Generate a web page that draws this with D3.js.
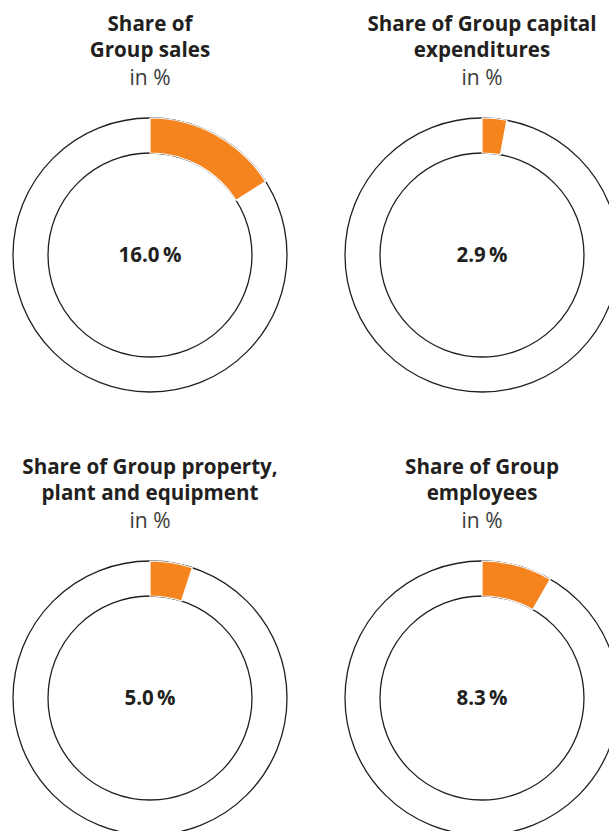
<!DOCTYPE html>
<html>
<head>
<meta charset="utf-8">
<script src="https://cdn.jsdelivr.net/npm/d3@7"></script>
<style>
  body { margin: 0; background: #fff; }
  svg { display: block; font-family: "Open Sans", "Noto Sans", sans-serif; }
  .title { font-weight: 700; font-size: 20.6px; fill: #231f20; }
  .unit { font-weight: 400; font-size: 21px; fill: #3a3a3a; }
  .value { font-weight: 700; font-size: 20.5px; fill: #231f20; }
</style>
</head>
<body>
<svg id="chart"></svg>
<script>
// Data
const titles = [
    ["Share of", "Group sales"],
    ["Share of Group capital", "expenditures"],
    ["Share of Group property,", "plant and equipment"],
    ["Share of Group", "employees"]
];
const shares = [16.0, 2.9, 5.0, 8.3];
const unitLabel = "in %";

const width = 609, height = 831;
const outerR = 137, innerR = 102;
const centersX = [150, 482];
const centersY = [255, 698];

const svg = d3.select("#chart")
    .attr("width", width)
    .attr("height", height);

// percent -> angle
const angle = d3.scaleLinear().domain([0, 100]).range([0, 2 * Math.PI]);

const arc = d3.arc()
    .innerRadius(innerR)
    .outerRadius(outerR)
    .startAngle(0)
    .endAngle(d => angle(d));

shares.forEach((v, i) => {
    const cx = centersX[i % 2];
    const cy = centersY[Math.floor(i / 2)];
    const g = svg.append("g").attr("transform", `translate(${cx},${cy})`);

    // ring outlines
    [outerR, innerR].forEach(r => {
        g.append("circle")
            .attr("r", r)
            .attr("fill", "none")
            .attr("stroke", "#231f20")
            .attr("stroke-width", 1.3);
    });

    // share segment
    g.append("path")
        .attr("d", arc(v))
        .attr("fill", "#f5841f")
        .attr("stroke", "#fff")
        .attr("stroke-width", 1.2);

    // value in the middle
    g.append("text")
        .attr("class", "value")
        .attr("text-anchor", "middle")
        .attr("dy", "0.35em")
        .text(d3.format(".1f")(v) + "\u2009%");

    // title
    const t = svg.append("text")
        .attr("text-anchor", "middle")
        .attr("x", cx);
    titles[i].forEach((line, j) => {
        t.append("tspan")
            .attr("class", "title")
            .attr("x", cx)
            .attr("y", cy - 224 + j * 26)
            .text(line);
    });
    t.append("tspan")
        .attr("class", "unit")
        .attr("x", cx)
        .attr("y", cy - 224 + 54)
        .text(unitLabel);
});
</script>
</body>
</html>
